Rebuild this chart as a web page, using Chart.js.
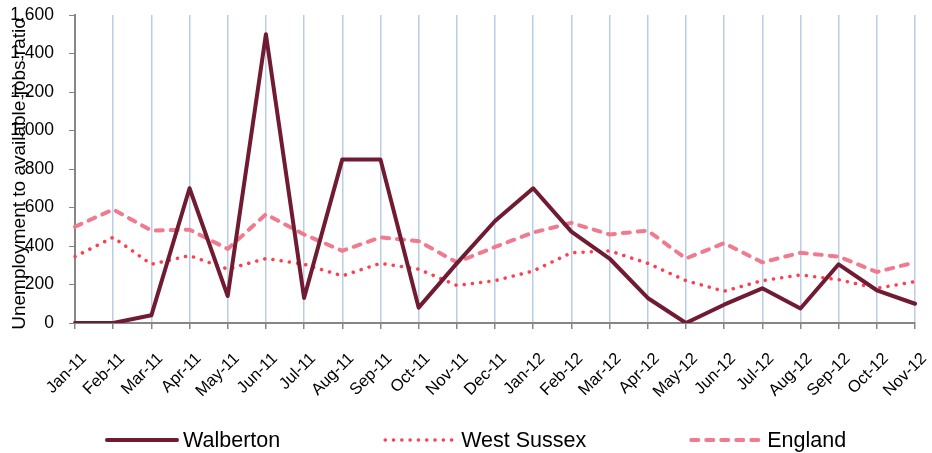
<!DOCTYPE html>
<html>
<head>
<meta charset="utf-8">
<script src="https://cdn.jsdelivr.net/npm/chart.js@4/dist/chart.umd.min.js"></script>
<style>
  html, body { margin: 0; padding: 0; background: #fff; }
  #wrap { width: 932px; height: 453px; }
</style>
</head>
<body>
<div id="wrap"><canvas id="chart"></canvas></div>
<script>
// Monthly unemployment to available jobs ratio
const months = ['Jan-11', 'Feb-11', 'Mar-11', 'Apr-11', 'May-11', 'Jun-11', 'Jul-11', 'Aug-11',
    'Sep-11', 'Oct-11', 'Nov-11', 'Dec-11', 'Jan-12', 'Feb-12', 'Mar-12', 'Apr-12', 'May-12',
    'Jun-12', 'Jul-12', 'Aug-12', 'Sep-12', 'Oct-12', 'Nov-12'];

const walberton = [0, 0, 40, 700, 140, 1500, 130, 850, 850, 80, 310, 530,
    700, 475, 335, 130, 0, 95, 180, 75, 305, 170, 100];
const westSussex = [345, 445, 305, 350, 280, 335, 305, 245, 310, 280, 195, 220,
    270, 365, 375, 310, 220, 165, 220, 250, 225, 180, 215];
const england = [500, 590, 480, 485, 385, 565, 460, 375, 445, 425, 315, 395,
    470, 520, 460, 480, 335, 415, 315, 365, 345, 265, 315];

const yTicks = [0, 200, 400, 600, 800, 1000, 1200, 1400, 1600];
const yTitle = 'Unemployment to available jobs ratio';

const FONT = '"Liberation Sans", Arial, sans-serif';
const AXIS_GREY = '#868686';

// y axis title is drawn over the tick labels like the original sheet
const yTitlePlugin = {
    id: 'yTitle',
    afterDraw(chart) {
        const {ctx, chartArea} = chart;
        ctx.save();
        ctx.translate(20, (chartArea.top + chartArea.bottom) / 2 + 5);
        ctx.rotate(-Math.PI / 2);
        ctx.font = '19px ' + FONT;
        ctx.fillStyle = '#000';
        ctx.textAlign = 'center';
        ctx.textBaseline = 'middle';
        ctx.fillText(yTitle, 0, 0);
        ctx.restore();
    }
};

// wide spaced legend along the bottom
const bottomLegend = {
    id: 'bottomLegend',
    afterDraw(chart) {
        const ctx = chart.ctx;
        const y = 440;
        let x = 107;
        ctx.save();
        ctx.font = '21.5px ' + FONT;
        ctx.textBaseline = 'middle';
        chart.data.datasets.forEach(ds => {
            ctx.beginPath();
            ctx.strokeStyle = ds.borderColor;
            ctx.lineWidth = ds.borderWidth;
            ctx.lineCap = ds.borderCapStyle || 'butt';
            ctx.setLineDash(ds.borderDash || []);
            ctx.moveTo(x, y);
            ctx.lineTo(x + 70, y);
            ctx.stroke();
            ctx.setLineDash([]);
            ctx.fillStyle = '#000';
            ctx.fillText(ds.label, x + 76, y + 1);
            x += 76 + ctx.measureText(ds.label).width + 105;
        });
        ctx.restore();
    }
};

new Chart(document.getElementById('chart'), {
    type: 'line',
    data: {
        labels: months,
        datasets: [
            {
                label: 'Walberton',
                data: walberton,
                borderColor: '#701B32',
                borderWidth: 4,
                borderCapStyle: 'round',
                borderJoinStyle: 'round',
            },
            {
                label: 'West Sussex',
                data: westSussex,
                borderColor: '#FF3F4F',
                borderWidth: 3.5,
                borderCapStyle: 'round',
                borderDash: [0.1, 8.2],
            },
            {
                label: 'England',
                data: england,
                borderColor: '#F07A8E',
                borderWidth: 4,
                borderCapStyle: 'round',
                borderDash: [7, 8],
            },
        ]
    },
    options: {
        responsive: true,
        maintainAspectRatio: false,
        animation: false,
        layout: {
            padding: { left: 0, right: 17, top: 15, bottom: 50 }
        },
        elements: {
            point: { radius: 0 },
            line: { tension: 0, fill: false },
        },
        plugins: {
            legend: { display: false },
            tooltip: { enabled: false },
        },
        scales: {
            x: {
                offset: false,
                afterFit(scale) {
                    scale.height = 80;
                    scale.paddingLeft = 0;
                    scale.paddingRight = 0;
                },
                border: { color: AXIS_GREY, width: 2 },
                grid: {
                    color: '#B9CDE5',
                    lineWidth: 1.5,
                    tickColor: AXIS_GREY,
                    tickLength: 6,
                },
                ticks: {
                    autoSkip: false,
                    minRotation: 45,
                    maxRotation: 45,
                    labelOffset: 9,
                    padding: 20,
                    color: '#000',
                    font: { family: FONT, size: 16.5 },
                },
            },
            y: {
                min: 0,
                max: 1600,
                afterFit(scale) {
                    scale.width = 75;
                    scale.paddingTop = 0;
                    scale.paddingBottom = 0;
                },
                afterBuildTicks(scale) { scale.ticks = yTicks.map(v => ({ value: v })); },
                border: { color: AXIS_GREY, width: 2 },
                grid: {
                    drawOnChartArea: false,
                    tickColor: AXIS_GREY,
                    tickLength: 6,
                },
                ticks: {
                    padding: 15,
                    color: '#000',
                    font: { family: FONT, size: 17.5 },
                    callback: v => v.toLocaleString('en-US'),
                },
            },
        },
    },
    plugins: [yTitlePlugin, bottomLegend]
});
</script>
</body>
</html>
